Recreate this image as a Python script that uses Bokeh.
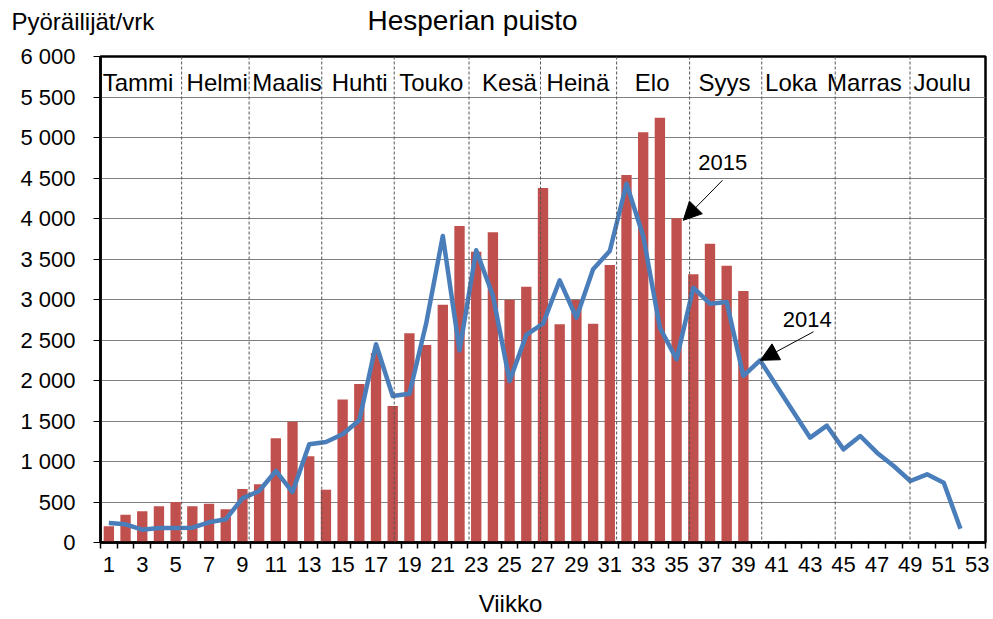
from bokeh.plotting import figure
from bokeh.layouts import column
from bokeh.models import FixedTicker, Span, Arrow, NormalHead, Range1d
from bokeh.core.properties import value
from bokeh.embed import file_html
from bokeh.resources import INLINE

# ---------------- data ----------------
weeks_2015 = list(range(1, 40))
riders_2015 = [200, 343, 385, 447, 500, 447, 479, 410, 660, 719,
               1286, 1491, 1064, 652, 1765, 1957, 2340, 1685, 2583, 2438,
               2936, 3907, 3590, 3830, 2998, 3158, 4377, 2694, 2995, 2701,
               3426, 4537, 5064, 5244, 4002, 3311, 3689, 3417, 3105]

weeks_2014 = list(range(1, 53))
riders_2014 = [241, 224, 158, 179, 179, 183, 249, 286, 545, 636,
               883, 623, 1212, 1240, 1336, 1508, 2447, 1809, 1837, 2700,
               3784, 2372, 3607, 3050, 1994, 2562, 2701, 3237, 2775, 3373,
               3599, 4430, 3784, 2652, 2262, 3146, 2948, 2969, 2056, 2249,
               1930, 1610, 1294, 1442, 1150, 1315, 1109, 944, 759, 842,
               738, 170]

month_names = ["Tammi", "Helmi", "Maalis", "Huhti", "Touko", "Kesä",
               "Heinä", "Elo", "Syys", "Loka", "Marras", "Joulu"]
month_label_week = [2.75, 7.49, 11.67, 16.02, 20.31, 24.99,
                    29.09, 33.54, 37.87, 41.86, 46.25, 50.9]
month_boundary_week = [5.36, 9.4, 13.75, 18.09, 22.57, 26.85,
                       31.41, 35.78, 40.1, 44.5, 48.98]

y_ticks = list(range(0, 6001, 500))
x_label_ticks = list(range(1, 54, 2))
x_minor = [w + 0.5 for w in range(0, 54)]

title_text = "Hesperian puisto"
y_label_text = "Pyöräilijät/vrk"
x_label_text = "Viikko"

FONT = "Liberation Sans"
W = 993
HEAD_H = 42
FOOT_H = 37
MAIN_H = 619 - HEAD_H - FOOT_H


def no_frame_align(fig):
    if "frame_align" in fig.properties():
        fig.frame_align = False


def text_strip(height):
    f = figure(width=W, height=height, output_backend="svg", toolbar_location=None,
               x_range=Range1d(0, W), y_range=Range1d(height, 0),
               min_border_left=0, min_border_right=0, min_border_top=0,
               min_border_bottom=0)
    f.axis.visible = False
    f.grid.grid_line_color = None
    f.outline_line_color = None
    f.background_fill_color = "white"
    f.border_fill_color = "white"
    no_frame_align(f)
    return f


# ---------------- header (titles) ----------------
head = text_strip(HEAD_H)
head.text(x=[11], y=[21], text=[y_label_text], text_font=value(FONT),
          text_font_size="24px", text_align="left", text_baseline="middle",
          text_color="black")
head.text(x=[472], y=[19.5], text=[title_text], text_font=value(FONT),
          text_font_size="28px", text_align="center", text_baseline="middle",
          text_color="black")

# ---------------- footer (x axis title) ----------------
foot = text_strip(FOOT_H)
foot.text(x=[510], y=[21], text=[x_label_text], text_font=value(FONT),
          text_font_size="24px", text_align="center", text_baseline="middle",
          text_color="black")

# ---------------- main chart ----------------
p = figure(width=W, height=MAIN_H, output_backend="svg", toolbar_location=None,
           x_range=(0.5, 53.5), y_range=(0, 6000),
           min_border_left=100, min_border_right=8,
           min_border_top=14, min_border_bottom=40)
no_frame_align(p)
p.background_fill_color = "white"
p.border_fill_color = "white"
p.outline_line_color = "black"
p.outline_line_width = 2.5

p.xgrid.grid_line_color = None
p.ygrid.ticker = FixedTicker(ticks=y_ticks)
p.ygrid.grid_line_color = "#7f7f7f"
p.ygrid.grid_line_width = 1

for b in month_boundary_week:
    p.add_layout(Span(location=b, dimension="height", line_color="#555555",
                      line_width=1, line_dash="3 2"))

p.vbar(x=weeks_2015, top=riders_2015, width=0.62, fill_color="#C0504D",
       line_color=None)

p.line(weeks_2014, riders_2014, line_color="#4A7EBB", line_width=4.5,
       line_join="round")

p.text(x=month_label_week, y=[5673] * len(month_names), text=month_names,
       text_font=value(FONT), text_font_size="24px", text_align="center",
       text_baseline="middle", text_color="black")

p.text(x=[37.76, 42.82], y=[4696, 2756], text=["2015", "2014"],
       text_font=value(FONT), text_font_size="22px", text_align="center",
       text_baseline="middle", text_color="black")
p.add_layout(Arrow(x_start=37.75, y_start=4472, x_end=35.4, y_end=3978,
                   line_color="black", line_width=1,
                   end=NormalHead(size=18, fill_color="black", line_color="black")))
p.add_layout(Arrow(x_start=43.2, y_start=2602, x_end=40.02, y_end=2249,
                   line_color="black", line_width=1,
                   end=NormalHead(size=18, fill_color="black", line_color="black")))

p.yaxis.ticker = FixedTicker(ticks=y_ticks)
p.yaxis.major_label_overrides = {t: f"{t:,}".replace(",", " ") for t in y_ticks}
p.yaxis.major_label_text_font = FONT
p.yaxis.major_label_text_font_size = "22px"
p.yaxis.major_label_text_color = "black"
p.yaxis.major_label_standoff = 18
p.yaxis.major_tick_out = 7
p.yaxis.major_tick_in = 0
p.yaxis.minor_tick_line_color = None
p.yaxis.axis_line_width = 2.5
p.yaxis.axis_line_color = "black"
p.yaxis.major_tick_line_color = "black"

p.xaxis.ticker = FixedTicker(ticks=x_label_ticks, minor_ticks=x_minor)
p.xaxis.major_tick_line_color = None
p.xaxis.minor_tick_line_color = "black"
p.xaxis.minor_tick_line_width = 1.5
p.xaxis.minor_tick_out = 6
p.xaxis.minor_tick_in = 0
p.xaxis.major_label_text_font = FONT
p.xaxis.major_label_text_font_size = "22px"
p.xaxis.major_label_text_color = "black"
p.xaxis.major_label_standoff = 8
p.xaxis.axis_line_width = 2.5
p.xaxis.axis_line_color = "black"

layout = column(head, p, foot, spacing=0)
open("out.html", "w").write(file_html(layout, INLINE))
